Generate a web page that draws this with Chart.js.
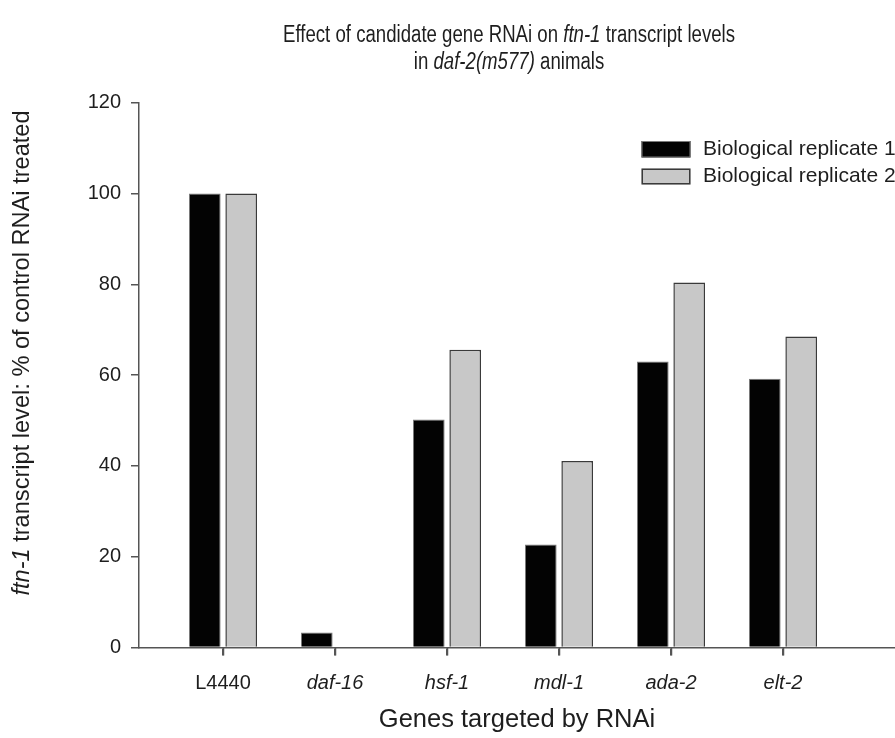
<!DOCTYPE html>
<html><head><meta charset="utf-8">
<script src="https://cdn.jsdelivr.net/npm/chart.js@4.4.1/dist/chart.umd.min.js"></script>
<style>html,body{margin:0;padding:0;background:#fff}#wrap{width:895px;height:738px;position:relative}</style>
</head><body><div id="wrap"><canvas id="c" width="895" height="738"></canvas></div>
<script>
const categories = ['L4440','daf-16','hsf-1','mdl-1','ada-2','elt-2'];
const replicate1 = [100, 3.3, 50.2, 22.7, 63.0, 59.2];
const replicate2 = [100, 0, 65.6, 41.1, 80.4, 68.5];
const seriesNames = ['Biological replicate 1','Biological replicate 2'];
const yTickValues = [0, 20, 40, 60, 80, 100, 120];
const titleLines = [
  [['Effect of candidate gene RNAi on ', false], ['ftn-1', true], [' transcript levels', false]],
  [['in ', false], ['daf-2(m577)', true], [' animals', false]]
];
const yTitleRuns = [['ftn-1', true], [' transcript level: % of control RNAi treated', false]];
const xTitleText = 'Genes targeted by RNAi';

const SANS = "'Liberation Sans', Arial, sans-serif";
const TEXT = '#1e1e1e';
const AXIS = '#555555';

function runWidths(ctx, runs, size, family) {
  return runs.map(([t, it]) => { ctx.font = (it ? 'italic ' : '') + size + 'px ' + family; return ctx.measureText(t).width; });
}
function drawRuns(ctx, runs, cx, cy, size, family, sx) {
  const w = runWidths(ctx, runs, size, family);
  const total = w.reduce((a, b) => a + b, 0);
  ctx.save();
  ctx.translate(cx, cy);
  ctx.scale(sx, 1);
  let x = -total / 2;
  runs.forEach(([t, it], i) => {
    ctx.font = (it ? 'italic ' : '') + size + 'px ' + family;
    ctx.fillText(t, x, 0);
    x += w[i];
  });
  ctx.restore();
}

const textPlugin = {
  id: 'texts',
  afterDraw(chart) {
    const ctx = chart.ctx;
    ctx.save();
    // category tick marks below the x axis
    const xs = chart.scales.x;
    ctx.strokeStyle = AXIS;
    ctx.lineWidth = 1.5;
    categories.forEach((c, i) => {
      const px = Math.round(xs.getPixelForValue(i)) + 0.5;
      ctx.beginPath();
      ctx.moveTo(px, xs.top);
      ctx.lineTo(px, xs.top + 8);
      ctx.stroke();
    });
    ctx.fillStyle = TEXT;
    ctx.textAlign = 'left';
    ctx.textBaseline = 'middle';
    // title: condensed look
    const w0 = runWidths(ctx, titleLines[0], 23, SANS).reduce((a, b) => a + b, 0);
    const sx = 452 / w0;
    drawRuns(ctx, titleLines[0], 509, 36, 23, SANS, sx);
    drawRuns(ctx, titleLines[1], 509, 63, 23, SANS, sx);
    // y title
    ctx.save();
    ctx.translate(22, 353);
    ctx.rotate(-Math.PI / 2);
    drawRuns(ctx, yTitleRuns, 0, 0, 23.6, SANS, 1);
    ctx.restore();
    // legend
    const ds = chart.data.datasets;
    const boxes = [[641.5, 141, 49, 16.5, 149.5], [641.5, 168.5, 49, 16, 176.5]];
    ds.forEach((d, i) => {
      const [bx, by, bw, bh, ty] = boxes[i];
      ctx.fillStyle = d.backgroundColor;
      ctx.fillRect(bx, by, bw, bh);
      ctx.strokeStyle = d.borderColor;
      ctx.lineWidth = d.borderWidth;
      ctx.strokeRect(bx + d.borderWidth / 2, by + d.borderWidth / 2, bw - d.borderWidth, bh - d.borderWidth);
      ctx.fillStyle = TEXT;
      ctx.font = '21px ' + SANS;
      ctx.fillText(d.label, 703, ty);
    });
    ctx.restore();
  }
};

new Chart(document.getElementById('c'), {
  type: 'bar',
  data: {
    datasets: [
      { label: seriesNames[0], data: replicate1.map((v, i) => ({ x: i, y: v })), backgroundColor: '#030303', borderColor: '#7a7a7a', borderWidth: 1, borderSkipped: 'start' },
      { label: seriesNames[1], data: replicate2.map((v, i) => ({ x: i, y: v })), backgroundColor: '#c8c8c8', borderColor: '#3a3a3a', borderWidth: 1.5, borderSkipped: 'start' }
    ]
  },
  options: {
    responsive: false,
    animation: false,
    devicePixelRatio: 1,
    categoryPercentage: 0.65,
    barPercentage: 0.87,
    layout: { padding: { top: 102.7, left: 0, right: 0, bottom: 0 } },
    plugins: { legend: { display: false }, title: { display: false }, tooltip: { enabled: false } },
    scales: {
      x: {
        type: 'linear', position: 'bottom', min: -0.75, max: 6, offset: false,
        afterBuildTicks: s => { s.ticks = s.ticks.filter(t => t.value >= 0 && t.value < categories.length && Number.isInteger(t.value)); },
        afterFit: s => { s.height = 90.5; },
        ticks: {
          stepSize: 1, includeBounds: false, autoSkip: false, maxRotation: 0, padding: 16, color: TEXT,
          callback: v => categories[v] ?? '',
          font: c => ({ family: SANS, size: 20, style: c.index === 0 ? 'normal' : 'italic' })
        },
        grid: { offset: false, drawOnChartArea: false, drawTicks: true, tickLength: 8, color: AXIS, lineWidth: 1.5 },
        border: { display: true, color: AXIS, width: 1.5 },
        title: { display: true, text: xTitleText, color: TEXT, font: { family: SANS, size: 25.5 }, padding: { top: 0, bottom: 3 } }
      },
      y: {
        min: 0, max: 120,
        afterBuildTicks: s => { s.ticks = yTickValues.map(v => ({ value: v })); },
        afterFit: s => { s.width = 139; },
        ticks: { stepSize: 20, padding: 10, color: TEXT, font: { family: SANS, size: 20 } },
        grid: { drawOnChartArea: false, drawTicks: true, tickLength: 8, color: AXIS, lineWidth: 1.5 },
        border: { display: true, color: AXIS, width: 1.5 }
      }
    }
  },
  plugins: [textPlugin]
});
</script>
</body></html>
